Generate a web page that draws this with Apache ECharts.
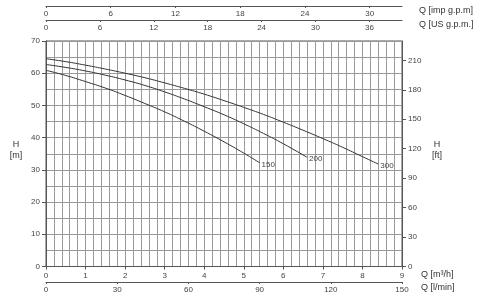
<!DOCTYPE html>
<html><head><meta charset="utf-8">
<script src="https://cdn.jsdelivr.net/npm/echarts@6/dist/echarts.min.js"></script>
<style>html,body{margin:0;padding:0;background:#fff}#c{width:480px;height:301px}</style>
</head><body><div id="c"></div>
<script>
// Flow (m3/h) sample points
const q300 = [0,0.5,1,1.5,2,2.5,3,3.5,4,4.5,5,5.5,6,6.5,7,7.5,8,8.4];
const h300 = [64.5,63.6,62.5,61.3,60.0,58.6,57.0,55.3,53.5,51.5,49.4,47.2,44.8,42.3,39.7,37.0,34.1,31.8];
const q200 = [0,0.5,1,1.5,2,2.5,3,3.5,4,4.5,5,5.5,6,6.6];
const h200 = [62.7,61.8,60.7,59.4,57.9,56.2,54.2,52.0,49.6,47.1,44.3,41.3,38.1,33.9];
const q150 = [0,0.5,1,1.5,2,2.5,3,3.5,4,4.5,5,5.4];
const h150 = [60.9,59.3,57.4,55.4,53.1,50.6,48.0,45.1,42.0,38.7,35.2,32.2];
const curveNames = ['300','200','150'];
// axis ranges / ticks
const qMax = 9;            // m3/h
const lminMax = 150;       // l/min
const impMax = 9 * 3.6662; // imp gpm
const usMax = 9 * 4.4029;  // US gpm
const hMax = 70;           // m
const ftMax = 70 * 3.28084;// ft

const font = 'Liberation Sans';
const txt = '#444';
const lab = (extra) => Object.assign({fontSize: 8, color: txt, fontFamily: font}, extra || {});
const pairs = (qs, hs) => qs.map((q, i) => [q, hs[i]]);

const chart = echarts.init(document.getElementById('c'), null, {renderer: 'canvas'});
const mkSeries = (name, qs, hs) => ({
  type: 'line', name: name, xAxisIndex: 0, yAxisIndex: 0,
  data: pairs(qs, hs), smooth: true, symbol: 'none',
  lineStyle: {color: '#333', width: 1},
  endLabel: {show: true, formatter: '{a}', distance: 2, offset: [0, 2], fontSize: 8, color: txt, fontFamily: font},
  silent: true, animation: false
});
chart.setOption({
  animation: false,
  grid: {left: 46, right: 78, top: 41, bottom: 34.5, show: true, borderColor: '#555', borderWidth: 1},
  xAxis: [
    {type: 'value', position: 'bottom', min: 0, max: qMax, interval: 1,
     axisLine: {onZero: false, lineStyle: {color: '#555'}}, axisTick: {show: true, length: 3, lineStyle: {color: '#555'}},
     axisLabel: lab({margin: 5}),
     splitLine: {show: true, lineStyle: {color: '#999', width: 1}},
     minorTick: {show: false, splitNumber: 5},
     minorSplitLine: {show: true, lineStyle: {color: '#999', width: 1}}},
    {type: 'value', position: 'bottom', offset: 15.5, min: 0, max: lminMax, interval: 30,
     axisLine: {show: true, onZero: false, lineStyle: {color: '#555'}}, axisTick: {show: true, length: 2, lineStyle: {color: '#555'}},
     axisLabel: lab({margin: 4}), splitLine: {show: false}},
    {type: 'value', position: 'top', offset: 35, min: 0, max: impMax, interval: 6,
     axisLine: {show: true, onZero: false, lineStyle: {color: '#555'}}, axisTick: {show: true, inside: true, length: 2, lineStyle: {color: '#555'}},
     axisLabel: lab({inside: true, margin: 4, showMaxLabel: false}), splitLine: {show: false}},
    {type: 'value', position: 'top', offset: 21, min: 0, max: usMax, interval: 6,
     axisLine: {show: true, onZero: false, lineStyle: {color: '#555'}}, axisTick: {show: true, inside: true, length: 2, lineStyle: {color: '#555'}},
     axisLabel: lab({inside: true, margin: 4, showMaxLabel: false}), splitLine: {show: false}}
  ],
  yAxis: [
    {type: 'value', position: 'left', min: 0, max: hMax, interval: 10,
     axisLine: {show: true, onZero: false, lineStyle: {color: '#555'}}, axisTick: {show: true, length: 4, lineStyle: {color: '#555'}},
     axisLabel: lab({margin: 6}),
     splitLine: {show: true, lineStyle: {color: '#999', width: 1}},
     minorTick: {show: false, splitNumber: 2},
     minorSplitLine: {show: true, lineStyle: {color: '#999', width: 1}}},
    {type: 'value', position: 'right', min: 0, max: ftMax, interval: 30,
     axisLine: {show: true, onZero: false, lineStyle: {color: '#555'}}, axisTick: {show: true, length: 4, lineStyle: {color: '#555'}},
     axisLabel: lab({margin: 6, showMaxLabel: false}), splitLine: {show: false}}
  ],
  series: [
    mkSeries(curveNames[0], q300, h300),
    mkSeries(curveNames[1], q200, h200),
    mkSeries(curveNames[2], q150, h150)
  ],
  graphic: [
    {type: 'text', left: 419, top: 6, style: {text: 'Q [imp g.p.m]', fontSize: 9, fill: '#333', fontFamily: font}},
    {type: 'text', left: 419, top: 20, style: {text: 'Q [US g.p.m.]', fontSize: 9, fill: '#333', fontFamily: font}},
    {type: 'text', left: 421, top: 270, style: {text: 'Q [m³/h]', fontSize: 9, fill: '#333', fontFamily: font}},
    {type: 'text', left: 421, top: 283, style: {text: 'Q [l/min]', fontSize: 9, fill: '#333', fontFamily: font}},
    {type: 'text', x: 16, y: 145, style: {text: 'H', fontSize: 9, fill: '#333', fontFamily: font, align: 'center', verticalAlign: 'middle'}},
    {type: 'text', x: 16, y: 156, style: {text: '[m]', fontSize: 9, fill: '#333', fontFamily: font, align: 'center', verticalAlign: 'middle'}},
    {type: 'text', x: 437, y: 145, style: {text: 'H', fontSize: 9, fill: '#333', fontFamily: font, align: 'center', verticalAlign: 'middle'}},
    {type: 'text', x: 437, y: 156, style: {text: '[ft]', fontSize: 9, fill: '#333', fontFamily: font, align: 'center', verticalAlign: 'middle'}}
  ]
});
</script></body></html>
